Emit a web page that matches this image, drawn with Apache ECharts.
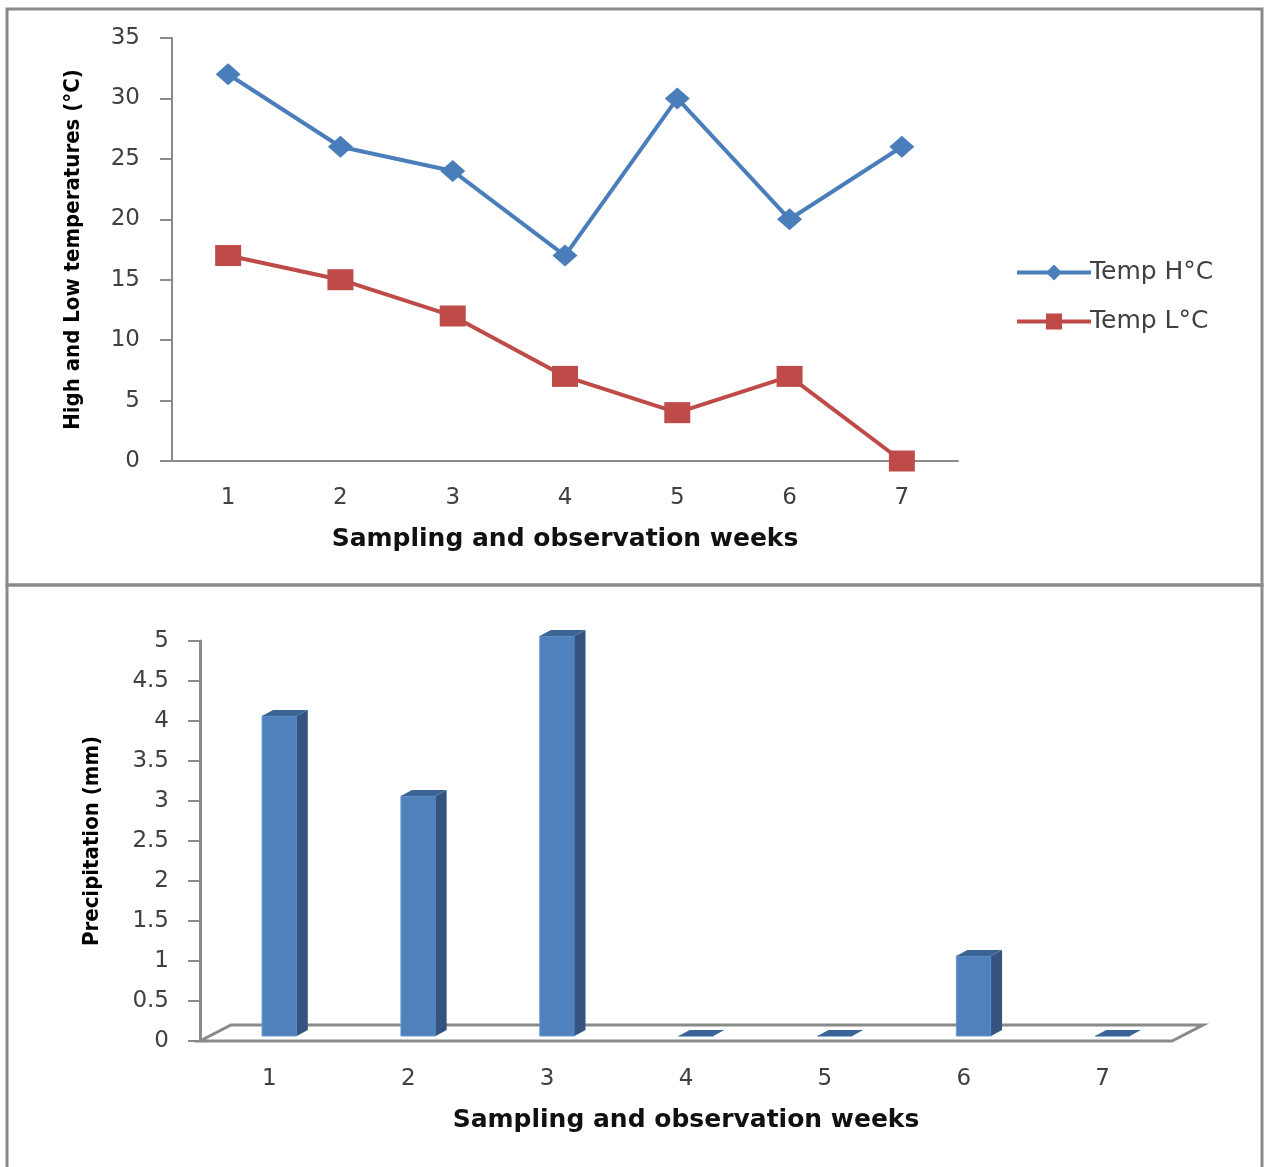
<!DOCTYPE html>
<html lang="en">
<head>
    <meta charset="utf-8">
    <title>Temperature and precipitation</title>
    <script src="https://cdn.jsdelivr.net/npm/echarts@6/dist/echarts.min.js"></script>
    <style>
        html, body { margin: 0; padding: 0; background: #fff; }
        #main { width: 1266px; height: 1167px; }
    </style>
</head>
<body>
<div id="main"></div>
<script type="text/javascript">
// data
var weeks = ['1', '2', '3', '4', '5', '6', '7'];
var tempHigh = [32, 26, 24, 17, 30, 20, 26];
var tempLow = [17, 15, 12, 7, 4, 7, 0];
var precip = [4, 3, 5, 0, 0, 1, 0];

var tickFont = 'DejaVu Sans';
var nameFont = 'DejaVu Sans';
var narrowFont = '"Liberation Sans Narrow", "DejaVu Sans Condensed", "Liberation Sans"';
var axisGray = '#8a8a8a';

// 3d look of the precipitation chart
var floorDx = 31, floorDy = -16;   // depth of the floor
var barDx = 10, barDy = -5;        // bars stand in the middle of the floor
var sideDx = 11, sideDy = -6;      // bar depth

var myChart = echarts.init(document.getElementById('main'));

function renderFloor(params, api) {
    var cs = params.coordSys;
    var y0 = api.coord([0, 0])[1];
    return {
        type: 'polygon',
        shape: {
            points: [
                [cs.x, y0], [cs.x + cs.width, y0],
                [cs.x + cs.width + floorDx, y0 + floorDy], [cs.x + floorDx, y0 + floorDy]
            ]
        },
        style: { fill: '#fff', stroke: axisGray, lineWidth: 3 }
    };
}

function renderBar(params, api) {
    var base = api.coord([api.value(0), 0]);
    var top = api.coord([api.value(0), api.value(1)]);
    var w = api.size([1, 0])[0] * 0.25;
    var x0 = base[0] - w / 2 + barDx, x1 = x0 + w;
    var yb = base[1] + barDy, yt = top[1] + barDy;
    return {
        type: 'group',
        children: [{
            type: 'rect',
            shape: { x: x0, y: yt, width: w, height: yb - yt },
            style: { fill: '#4f81bd', stroke: '#6b97cc', lineWidth: 1 }
        }, {
            type: 'polygon',
            shape: { points: [[x1, yt], [x1 + sideDx, yt + sideDy], [x1 + sideDx, yb + sideDy], [x1, yb]] },
            style: { fill: '#34547f' }
        }, {
            type: 'polygon',
            shape: { points: [[x0, yt], [x1, yt], [x1 + sideDx, yt + sideDy], [x0 + sideDx, yt + sideDy]] },
            style: { fill: '#3b6597' }
        }]
    };
}

var barData = precip.map(function (v, i) { return [i, v]; });

option = {
    animation: false,
    backgroundColor: '#fff',
    graphic: [
        { type: 'rect', shape: { x: 7, y: 9, width: 1255, height: 576 }, style: { fill: 'none', stroke: axisGray, lineWidth: 3 } },
        { type: 'rect', shape: { x: 7, y: 585, width: 1255, height: 590 }, style: { fill: 'none', stroke: axisGray, lineWidth: 3 } }
    ],
    legend: {
        orient: 'vertical',
        left: 1010,
        top: 255,
        itemWidth: 74,
        itemHeight: 20,
        itemGap: 24,
        lineStyle: { width: 4 },
        textStyle: { fontFamily: tickFont, fontSize: 25, color: '#404040', padding: [0, 0, 0, -6] },
        data: ['Temp H°C', 'Temp L°C']
    },
    grid: [
        { left: 172, right: 308, top: 38, bottom: 706 },
        { left: 200, right: 94, top: 641, bottom: 126 }
    ],
    xAxis: [{
        gridIndex: 0,
        type: 'category',
        data: weeks,
        boundaryGap: true,
        axisLine: { lineStyle: { color: axisGray, width: 2 } },
        axisTick: { show: false },
        axisLabel: { margin: 26, fontFamily: tickFont, fontSize: 23, color: '#404040' },
        name: 'Sampling and observation weeks',
        nameLocation: 'middle',
        nameGap: 66,
        nameTextStyle: { fontFamily: nameFont, fontWeight: 'bold', fontSize: 25, color: '#111' }
    }, {
        gridIndex: 1,
        type: 'category',
        data: weeks,
        boundaryGap: true,
        axisLine: { show: false },
        axisTick: { show: false },
        axisLabel: { margin: 27, fontFamily: tickFont, fontSize: 23, color: '#404040' },
        name: 'Sampling and observation weeks',
        nameLocation: 'middle',
        nameGap: 67,
        nameTextStyle: { fontFamily: nameFont, fontWeight: 'bold', fontSize: 25, color: '#111' }
    }],
    yAxis: [{
        gridIndex: 0,
        type: 'value',
        min: 0,
        max: 35,
        interval: 5,
        splitLine: { show: false },
        axisLine: { show: true, lineStyle: { color: axisGray, width: 2 } },
        axisTick: { show: true, length: 12, lineStyle: { color: axisGray, width: 2 } },
        axisLabel: { margin: 32, fontFamily: tickFont, fontSize: 23, color: '#404040' },
        name: 'High and Low temperatures (°C)',
        nameLocation: 'middle',
        nameGap: 88,
        nameTextStyle: { fontFamily: narrowFont, fontWeight: 'bold', fontSize: 22, color: '#000' }
    }, {
        gridIndex: 1,
        type: 'value',
        min: 0,
        max: 5,
        interval: 0.5,
        splitLine: { show: false },
        axisLine: { show: true, lineStyle: { color: axisGray, width: 3 } },
        axisTick: { show: true, length: 12, lineStyle: { color: axisGray, width: 2 } },
        axisLabel: { margin: 31, fontFamily: tickFont, fontSize: 23, color: '#404040' },
        name: 'Precipitation (mm)',
        nameLocation: 'middle',
        nameGap: 97,
        nameTextStyle: { fontFamily: narrowFont, fontWeight: 'bold', fontSize: 22, color: '#000' }
    }],
    series: [{
        name: 'Temp H°C',
        type: 'line',
        xAxisIndex: 0,
        yAxisIndex: 0,
        data: tempHigh,
        symbol: 'diamond',
        symbolSize: [25, 22],
        lineStyle: { color: '#4a7ebb', width: 4 },
        itemStyle: { color: '#4a7ebb' }
    }, {
        name: 'Temp L°C',
        type: 'line',
        xAxisIndex: 0,
        yAxisIndex: 0,
        data: tempLow,
        symbol: 'rect',
        symbolSize: [26, 21],
        lineStyle: { color: '#be4b48', width: 4 },
        itemStyle: { color: '#be4b48' }
    }, {
        name: 'floor',
        type: 'custom',
        xAxisIndex: 1,
        yAxisIndex: 1,
        data: [[0, 0]],
        renderItem: renderFloor,
        z: 1
    }, {
        name: 'Precipitation',
        type: 'custom',
        xAxisIndex: 1,
        yAxisIndex: 1,
        data: barData,
        renderItem: renderBar,
        z: 2
    }]
};

myChart.setOption(option);
window.addEventListener("resize", () => { myChart.resize(); });
</script>
</body>
</html>
